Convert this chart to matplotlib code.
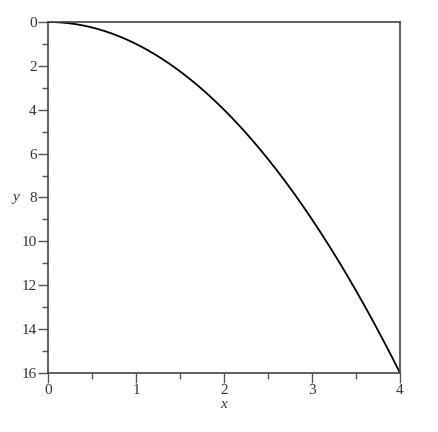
import matplotlib
matplotlib.use("Agg")
import matplotlib.pyplot as plt
from matplotlib.ticker import MultipleLocator
import numpy as np

# curve y = x^2 sampled on [0, 4]
x_vals = np.linspace(0, 4, 200)
y_vals = x_vals ** 2

x_ticks = [0, 1, 2, 3, 4]
y_ticks = [0, 2, 4, 6, 8, 10, 12, 14, 16]

plt.rcParams['font.family'] = 'serif'
plt.rcParams['font.serif'] = ['Liberation Serif', 'DejaVu Serif']

fig = plt.figure(figsize=(4.39, 4.32), dpi=100)
ax = fig.add_axes([0.1093, 0.1366, 0.802, 0.8125])

ax.plot(x_vals, y_vals, color="black", linewidth=1.3)

ax.set_xlim(0, 4)
ax.set_ylim(16, 0)
ax.set_xticks(x_ticks)
ax.set_yticks(y_ticks)
ax.xaxis.set_minor_locator(MultipleLocator(0.5))
ax.yaxis.set_minor_locator(MultipleLocator(1))

for s in ax.spines.values():
    s.set_color("#444444")
    s.set_linewidth(1.2)

ax.tick_params(which="major", direction="out", length=7, width=1, color="#555555",
               labelsize=11, labelcolor="#333333", pad=1)
ax.tick_params(which="minor", direction="out", length=4, width=1, color="#555555")

ax.set_xlabel("x", fontstyle="italic", fontsize=11, labelpad=1, color="#333333")
ax.set_ylabel("y", fontstyle="italic", fontsize=11, rotation=0, labelpad=4,
              color="#333333", va="center")

fig.savefig("out.png", dpi=100)
